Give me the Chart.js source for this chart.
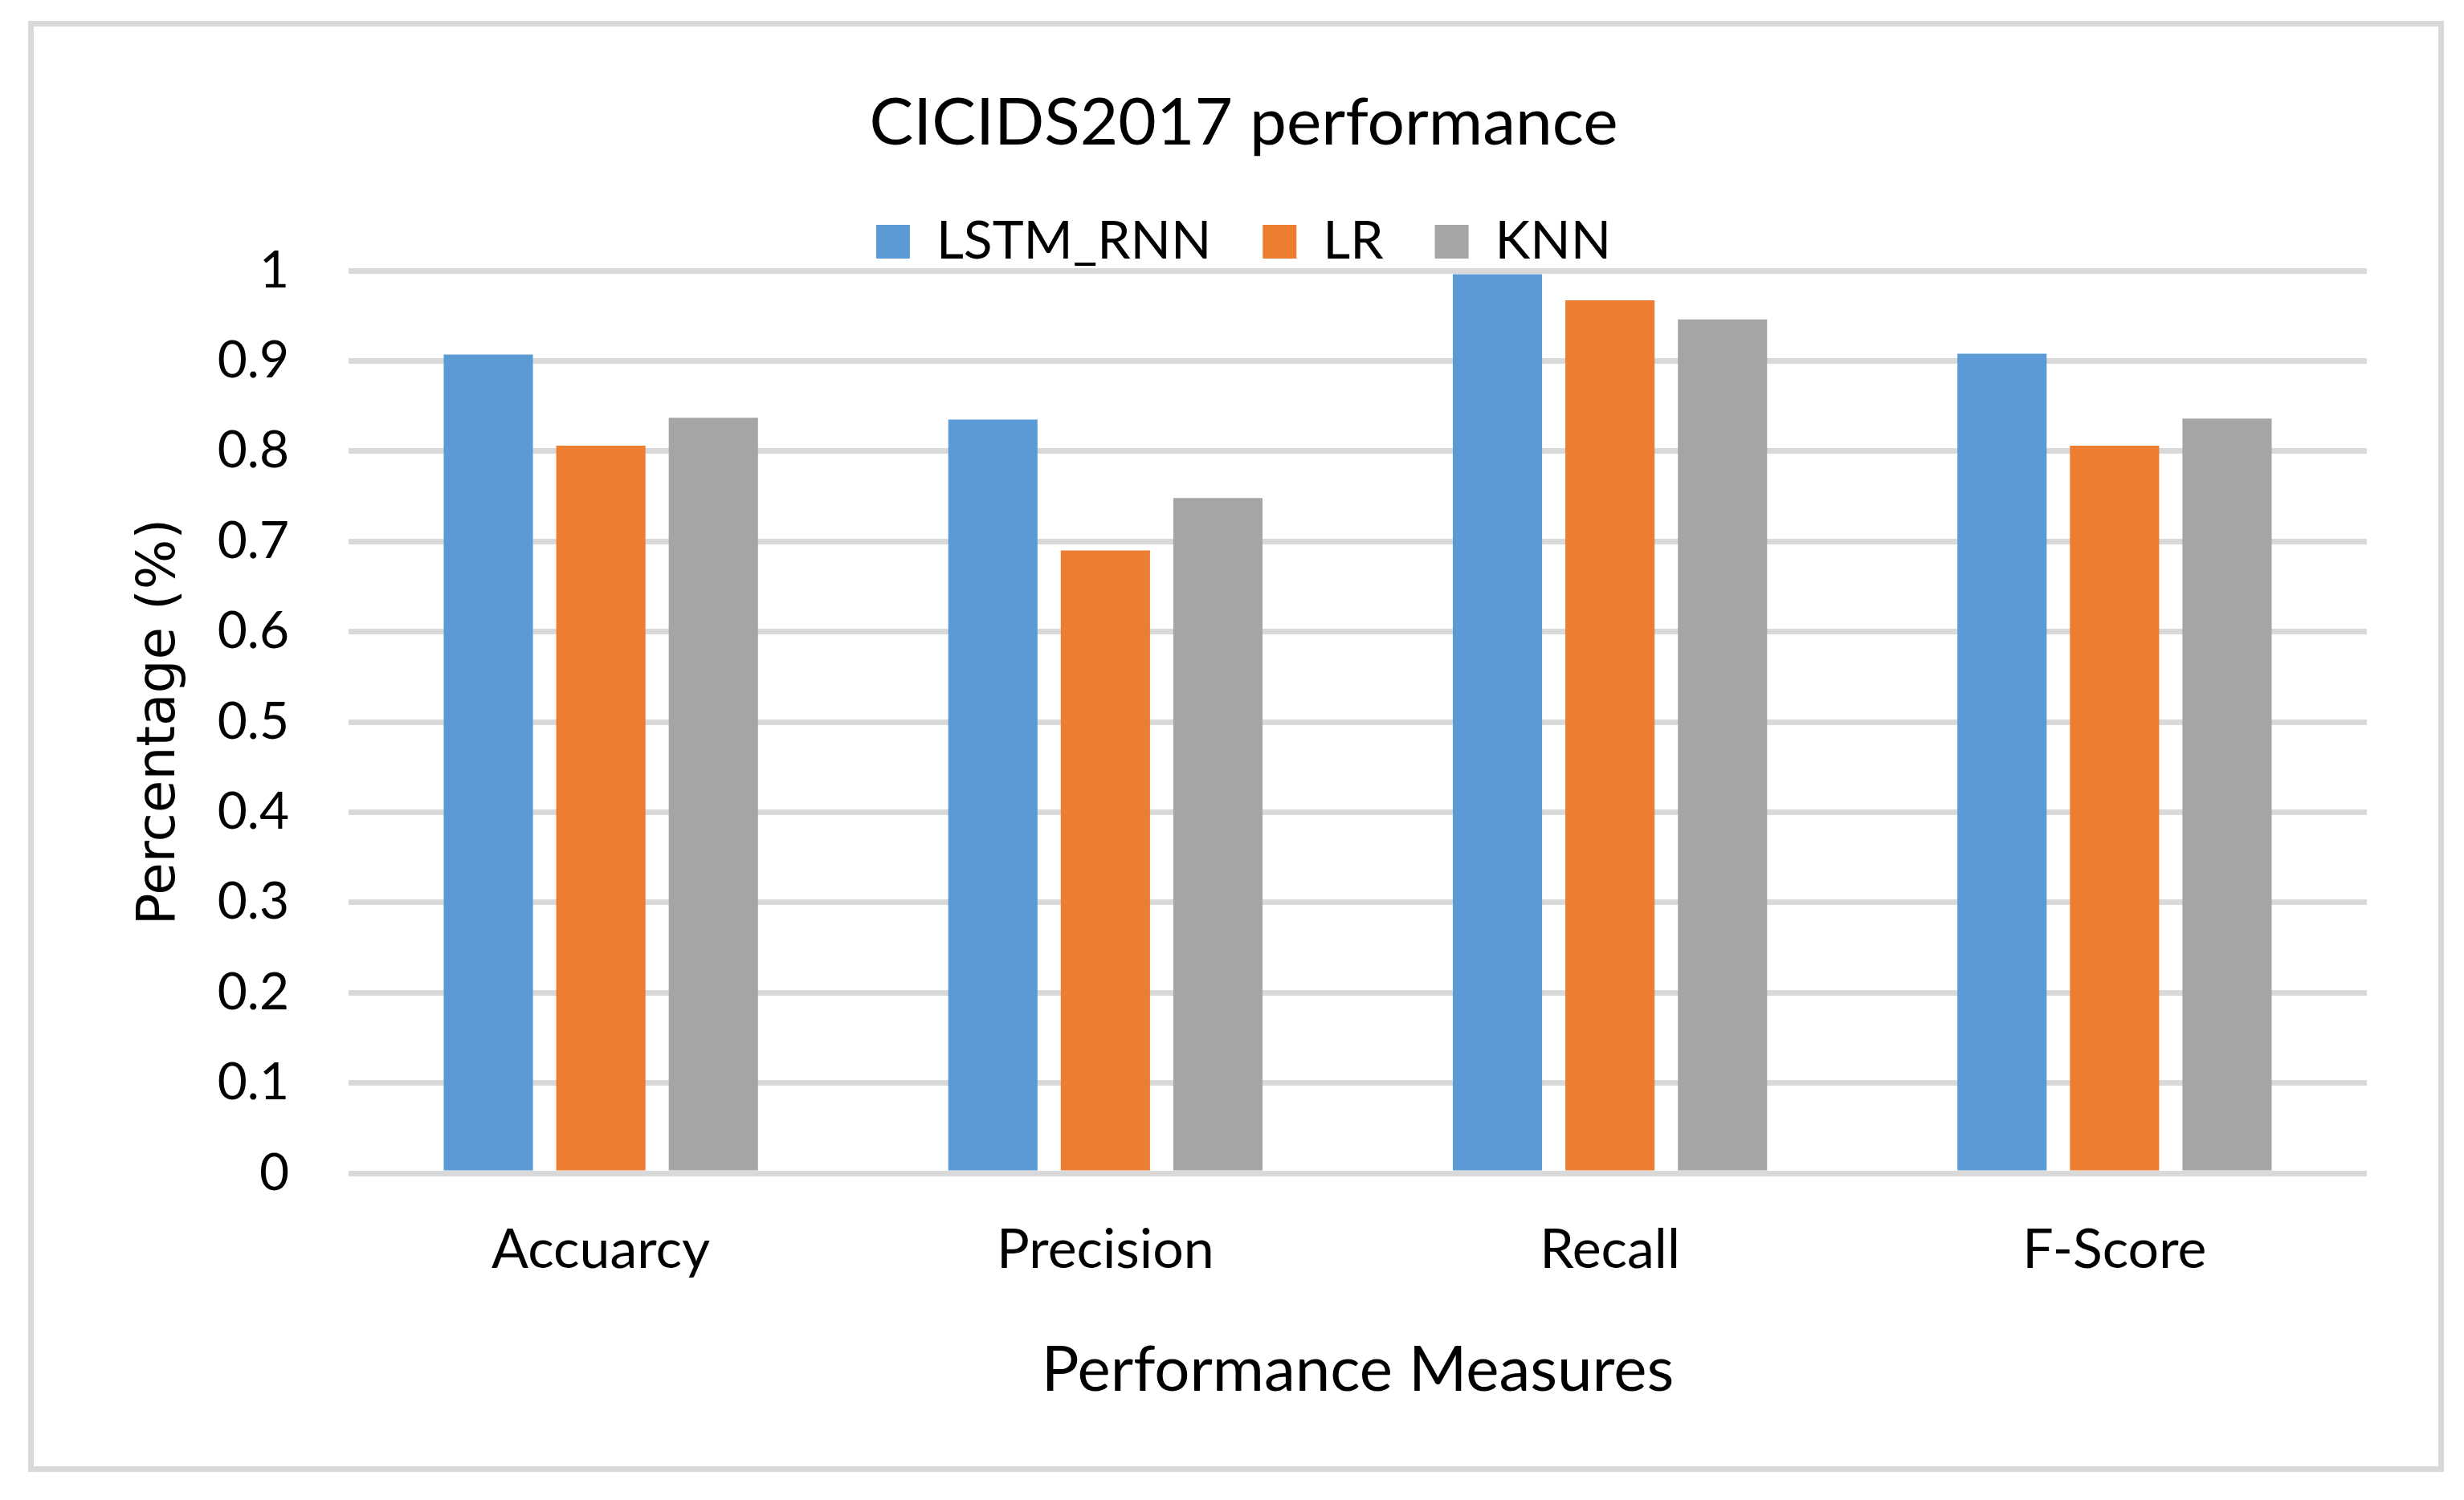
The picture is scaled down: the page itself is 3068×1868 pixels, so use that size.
<!DOCTYPE html>
<html>
<head>
<meta charset="utf-8">
<script src="https://cdn.jsdelivr.net/npm/chart.js@4"></script>
<style>
  html, body { margin: 0; padding: 0; background: #fff; }
  canvas { display: block; }
</style>
</head>
<body>
<canvas id="chart" width="3068" height="1868" style="width:3068px;height:1868px"></canvas>
<script>
const categories = ['Accuarcy', 'Precision', 'Recall', 'F-Score'];
const lstmRnn = [0.907, 0.835, 0.996, 0.908];
const lr = [0.806, 0.690, 0.967, 0.806];
const knn = [0.837, 0.748, 0.946, 0.836];
const yTicks = ['0', '0.1', '0.2', '0.3', '0.4', '0.5', '0.6', '0.7', '0.8', '0.9', '1'];

// white background + light grey frame round the whole chart
const frame = {
    id: 'frame',
    beforeDraw(chart) {
        const ctx = chart.ctx;
        ctx.save();
        ctx.fillStyle = '#fff';
        ctx.fillRect(0, 0, chart.width, chart.height);
        ctx.strokeStyle = '#d9d9d9';
        ctx.lineWidth = 7;
        ctx.strokeRect(38.5, 29.5, 3001, 1800);
        ctx.restore();
    }
};

new Chart(document.getElementById('chart'), {
    type: 'bar',
    data: {
        labels: categories,
        datasets: [
            { label: 'LSTM_RNN', data: lstmRnn, backgroundColor: '#5b9bd5' },
            { label: 'LR', data: lr, backgroundColor: '#ed7d31' },
            { label: 'KNN', data: knn, backgroundColor: '#a5a5a5' }
        ]
    },
    options: {
        responsive: false,
        devicePixelRatio: 1,
        animation: false,
        categoryPercentage: 0.669,
        barPercentage: 0.793,
        layout: { padding: { top: 113, left: 150, right: 121, bottom: 114 } },
        plugins: {
            title: {
                display: true,
                text: 'CICIDS2017 performance',
                color: '#000',
                font: { family: 'Lato', size: 82, weight: 'normal', lineHeight: 1 },
                padding: { top: 0, bottom: 9 }
            },
            legend: {
                position: 'top',
                maxHeight: 133,
                labels: {
                    color: '#000',
                    font: { family: 'Lato', size: 66 },
                    boxWidth: 42,
                    boxHeight: 42,
                    padding: 64
                }
            },
            tooltip: { enabled: false }
        },
        scales: {
            x: {
                grid: { display: false, drawTicks: false },
                border: { display: false },
                ticks: {
                    color: '#000',
                    font: { family: 'Lato', size: 68 },
                    padding: 55
                },
                title: {
                    display: true,
                    text: 'Performance Measures',
                    color: '#000',
                    font: { family: 'Lato', size: 78 },
                    padding: { top: 0, bottom: 0 }
                },
                afterFit(scale) { scale.height = 293; }
            },
            y: {
                min: 0,
                max: 1,
                grid: { color: '#d9d9d9', lineWidth: 7, drawTicks: false },
                border: { display: false },
                ticks: {
                    stepSize: 0.1,
                    color: '#000',
                    font: { family: 'Lato', size: 64 },
                    padding: 74,
                    callback: (v, i) => yTicks[i]
                },
                title: {
                    display: true,
                    text: 'Percentage (%)',
                    color: '#000',
                    font: { family: 'DejaVu Sans', size: 66 },
                    padding: { top: 10, bottom: 0 }
                },
                afterFit(scale) { scale.width = 284; }
            }
        }
    },
    plugins: [frame]
});
</script>
</body>
</html>
